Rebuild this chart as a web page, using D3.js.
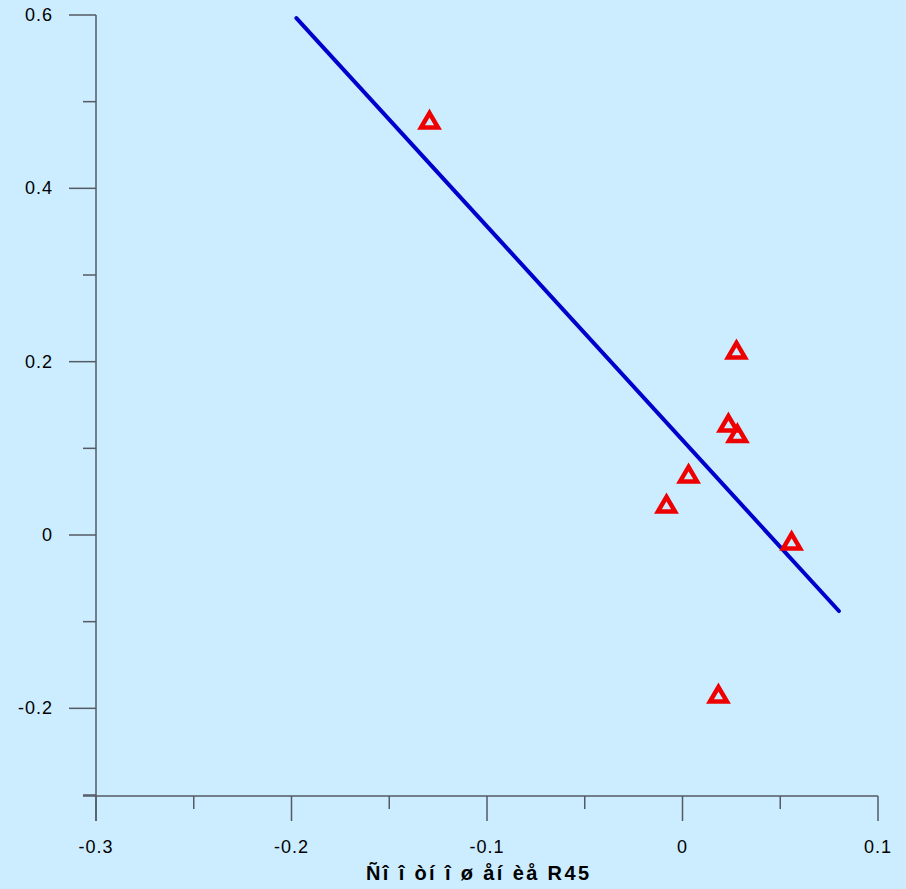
<!DOCTYPE html>
<html>
<head>
<meta charset="utf-8">
<title>R45 scatter</title>
<script src="https://d3js.org/d3.v7.min.js"></script>
<style>
  body { margin: 0; background: #ccecff; }
  svg { display: block; font-family: "Liberation Sans", Arial, sans-serif; }
  .tick-label { font-size: 18px; letter-spacing: 1px; fill: #000; }
  .axis-title { font-size: 20px; font-weight: bold; letter-spacing: 1px; fill: #000; }
</style>
</head>
<body>
<svg id="chart" width="906" height="889"></svg>
<script>
// scatter points
const pointX = [-0.1294, 0.0276, 0.0235, 0.0281, 0.0031, -0.0082, 0.0558, 0.0184];
const pointY = [0.4788, 0.2135, 0.1292, 0.1171, 0.0704, 0.0358, -0.0069, -0.1835];

// fitted line ends
const fitX = [-0.1975, 0.08];
const fitY = [0.5965, -0.0877];

const xMajor = [-0.3, -0.2, -0.1, 0, 0.1];
const xMinor = [-0.25, -0.15, -0.05, 0.05];
const yMajor = [0.6, 0.4, 0.2, 0, -0.2];
const yMinor = [0.5, 0.3, 0.1, -0.1, -0.3];
const xTitle = "Ñî î òí î ø åí èå R45";

const svg = d3.select("#chart");

const x = d3.scaleLinear().domain([-0.3, 0.1]).range([96, 878]);
const y = d3.scaleLinear().domain([-0.3, 0.6]).range([795, 15]);

const axisColor = "#555b63";
const fmt = d => d === 0 ? "0" : String(+d.toFixed(2));

// y axis
svg.append("line")
    .attr("x1", x(-0.3)).attr("x2", x(-0.3))
    .attr("y1", y(0.6)).attr("y2", y(-0.3) + 26)
    .attr("stroke", axisColor).attr("stroke-width", 1.5);

svg.selectAll(".ymaj").data(yMajor).enter().append("line")
    .attr("x1", x(-0.3) - 27).attr("x2", x(-0.3))
    .attr("y1", d => y(d)).attr("y2", d => y(d))
    .attr("stroke", axisColor).attr("stroke-width", 1.5);

svg.selectAll(".ymin").data(yMinor).enter().append("line")
    .attr("x1", x(-0.3) - 13).attr("x2", x(-0.3))
    .attr("y1", d => y(d)).attr("y2", d => y(d))
    .attr("stroke", axisColor).attr("stroke-width", 1.5);

svg.selectAll(".ylab").data(yMajor).enter().append("text")
    .attr("class", "tick-label")
    .attr("x", 53).attr("y", d => y(d))
    .attr("text-anchor", "end")
    .attr("dominant-baseline", "central")
    .text(fmt);

// x axis
const xAxisY = 796;
svg.append("line")
    .attr("x1", x(-0.3) - 13).attr("x2", x(0.1))
    .attr("y1", xAxisY).attr("y2", xAxisY)
    .attr("stroke", axisColor).attr("stroke-width", 1.5);

svg.selectAll(".xmaj").data(xMajor).enter().append("line")
    .attr("x1", d => x(d)).attr("x2", d => x(d))
    .attr("y1", xAxisY).attr("y2", xAxisY + 25)
    .attr("stroke", axisColor).attr("stroke-width", 1.5);

svg.selectAll(".xmin").data(xMinor).enter().append("line")
    .attr("x1", d => x(d)).attr("x2", d => x(d))
    .attr("y1", xAxisY).attr("y2", xAxisY + 13)
    .attr("stroke", axisColor).attr("stroke-width", 1.5);

svg.selectAll(".xlab").data(xMajor).enter().append("text")
    .attr("class", "tick-label")
    .attr("x", d => x(d)).attr("y", 853)
    .attr("text-anchor", "middle")
    .text(fmt);

svg.append("text")
    .attr("class", "axis-title")
    .attr("x", 478).attr("y", 880)
    .attr("text-anchor", "middle")
    .attr("textLength", 224)
    .attr("lengthAdjust", "spacing")
    .text(xTitle);

// fitted line
svg.append("path")
    .datum(d3.zip(fitX, fitY))
    .attr("d", d3.line().x(d => x(d[0])).y(d => y(d[1])))
    .attr("fill", "none")
    .attr("stroke", "#0000cc")
    .attr("stroke-width", 4)
    .attr("stroke-linecap", "round");

// triangle markers
const tri = "M0,-7 L8.5,7.5 L-8.5,7.5 Z";
svg.selectAll(".pt").data(d3.zip(pointX, pointY)).enter().append("path")
    .attr("d", tri)
    .attr("transform", d => `translate(${x(d[0])},${y(d[1])})`)
    .attr("fill", "none")
    .attr("stroke", "#ee0000")
    .attr("stroke-width", 4.5)
    .attr("stroke-linejoin", "miter");
</script>
</body>
</html>
